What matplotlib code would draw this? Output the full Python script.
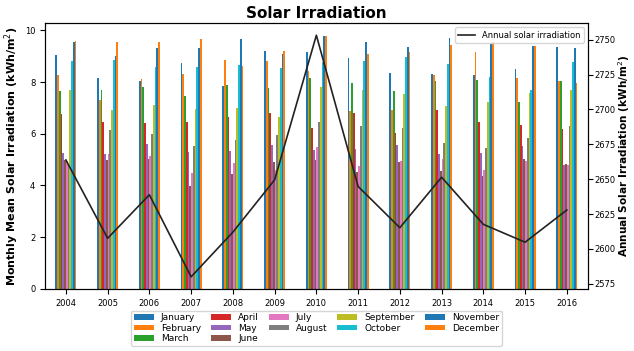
import numpy as np
import matplotlib
matplotlib.use('Agg')
import matplotlib.pyplot as plt

years = [2004, 2005, 2006, 2007, 2008, 2009, 2010, 2011, 2012, 2013, 2014, 2015, 2016]
months = ['January', 'February', 'March', 'April', 'May', 'June',
          'July', 'August', 'September', 'October', 'November', 'December']

# monthly mean irradiation per year, Jan..Dec
monthly = [
    [9.06, 8.27, 7.65, 6.77, 5.27, 5.00, 4.95, 4.85, 7.71, 8.81, 9.56, 9.59],  # 2004
    [8.17, 7.29, 7.71, 6.44, 5.23, 5.00, 5.23, 6.16, 6.93, 8.84, 9.02, 9.54],  # 2005
    [8.05, 8.12, 7.82, 6.42, 5.62, 5.01, 5.13, 6.01, 7.13, 8.58, 9.30, 9.56],  # 2006
    [8.75, 8.30, 7.47, 6.44, 5.31, 3.98, 4.48, 5.53, 6.95, 8.58, 9.33, 9.68],  # 2007
    [7.86, 8.84, 7.89, 6.66, 5.34, 4.46, 4.86, 5.77, 7.01, 8.65, 9.66, 8.61],  # 2008
    [9.19, 8.80, 7.77, 6.82, 5.58, 4.92, 4.59, 5.97, 6.66, 8.56, 9.10, 9.21],  # 2009
    [9.16, 8.43, 8.14, 6.24, 5.37, 5.00, 5.50, 6.47, 7.82, 8.79, 9.79, 9.79],  # 2010
    [8.93, 6.89, 7.96, 6.82, 5.43, 4.54, 4.77, 6.31, 7.71, 8.81, 9.54, 9.07],  # 2011
    [8.35, 6.92, 7.67, 6.03, 5.55, 4.92, 4.95, 6.24, 7.55, 8.96, 9.34, 9.16],  # 2012
    [8.31, 8.27, 8.03, 6.93, 5.23, 4.57, 5.03, 5.66, 7.07, 8.69, 9.69, 9.42],  # 2013
    [8.29, 9.16, 8.09, 6.44, 5.27, 4.36, 4.61, 5.46, 7.24, 8.18, 9.47, 9.54],  # 2014
    [8.49, 8.14, 7.24, 6.35, 5.53, 5.03, 4.95, 5.85, 7.59, 7.71, 9.38, 9.38],  # 2015
    [9.36, 8.04, 8.04, 6.20, 4.78, 4.83, 4.81, 6.29, 7.71, 8.78, 9.33, 7.96],  # 2016
]

annual = [2663.8, 2607.6, 2638.8, 2580.0, 2612.0, 2649.5, 2753.2,
          2644.8, 2615.2, 2651.4, 2617.6, 2604.8, 2627.9]

colors = ['tab:blue', 'tab:orange', 'tab:green', 'tab:red', 'tab:purple', 'tab:brown',
          'tab:pink', 'tab:gray', 'tab:olive', 'tab:cyan', 'tab:blue', 'tab:orange']

data = np.array(monthly)
x = np.arange(len(years))
w = 0.5 / len(months)

fig = plt.figure(figsize=(6.34, 3.51), dpi=100)
ax = fig.add_axes([0.071, 0.177, 0.856, 0.757])

handles = []
for i, m in enumerate(months):
    b = ax.bar(x + (i - 5.5) * w, data[:, i], w, color=colors[i], label=m)
    handles.append(b)

ax.set_xticks(x)
ax.set_xticklabels([str(y) for y in years], fontsize=6)
ax.set_xlim(-0.5, len(years) - 0.5)
ax.set_ylim(0, 10.28)
ax.tick_params(axis='y', labelsize=6)
ax.set_ylabel('Monthly Mean Solar Irradiation (kWh/m$^2$)', fontsize=8, fontweight='bold', labelpad=3)
ax.set_title('Solar Irradiation', fontsize=11, fontweight='bold', pad=4)

ax2 = ax.twinx()
ax2.plot(x, annual, color='#222222', lw=1.2, label='Annual solar irradiation')
ax2.set_xlim(-0.5, len(years) - 0.5)
ax2.margins(y=0.05)
ax2.set_yticks([2575, 2600, 2625, 2650, 2675, 2700, 2725, 2750])
ax2.tick_params(axis='y', labelsize=6, pad=1.5)
ax2.set_ylabel('Annual Solar Irradiation (kWh/m$^2$)', fontsize=7.6, fontweight='bold', labelpad=0.5)
ax2.legend(loc='upper right', fontsize=6)

ax.legend(handles=handles, loc='upper center', bbox_to_anchor=(0.5, -0.065),
          ncol=5, fontsize=6.5, handlelength=2.2, handleheight=0.6,
          labelspacing=0.15, columnspacing=1.1, borderpad=0.3)

fig.savefig('out.png', dpi=100)
